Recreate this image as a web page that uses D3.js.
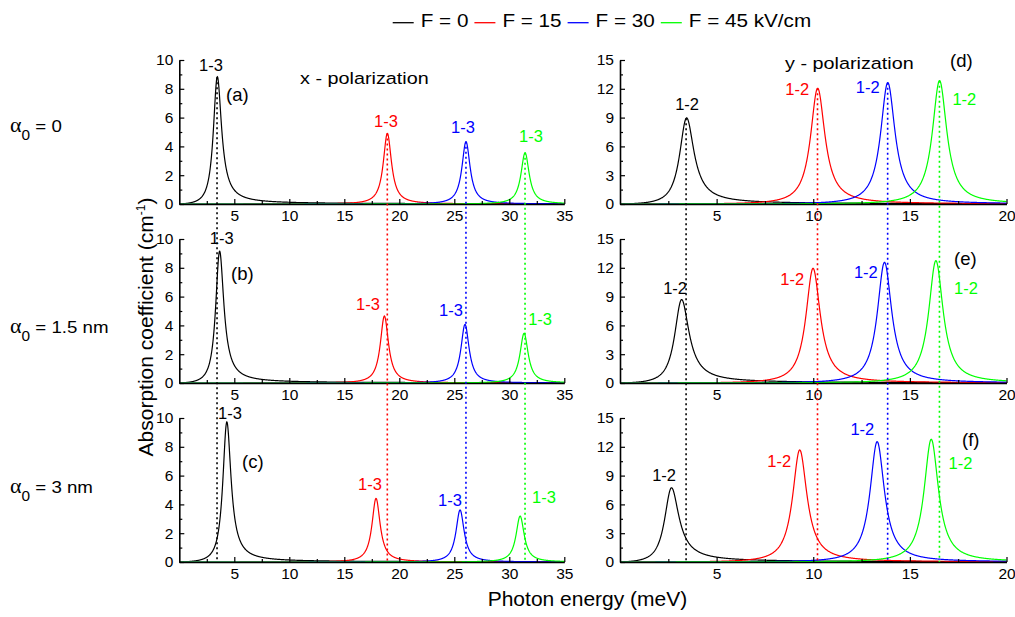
<!DOCTYPE html>
<html>
<head>
<meta charset="utf-8">
<script src="https://cdn.jsdelivr.net/npm/d3@7"></script>
<style>
  body { margin: 0; background: #fff; }
  svg { font-family: "Liberation Sans", Arial, sans-serif; }
</style>
</head>
<body>
<svg id="chart" width="1015" height="617"></svg>
<script>
// Field values (legend) and their colours
const fieldLabels = ["F = 0", "F = 15", "F = 30", "F = 45 kV/cm"];
const fieldColors = ["#000000", "#ff0000", "#0000ff", "#00ff00"];

// rows: alpha_0 values
const rowLabels = ["0", "1.5 nm", "3 nm"];
const xTags = ["(a)", "(b)", "(c)"];
const yTags = ["(d)", "(e)", "(f)"];

// x - polarization, transition 1-3: peak energy (meV) and peak height (cm^-1), per row, per field
const xPeakPos = [
  [3.43, 18.91, 26.06, 31.43],
  [3.64, 18.64, 25.97, 31.34],
  [4.30, 17.88, 25.52, 30.98]
];
const xPeakHeight = [
  [8.80, 4.90, 4.33, 3.56],
  [9.12, 4.65, 4.07, 3.45],
  [9.70, 4.42, 3.61, 3.19]
];
// y - polarization, transition 1-2
const yPeakPos = [
  [3.42, 10.22, 13.85, 16.53],
  [3.16, 9.98, 13.68, 16.34],
  [2.63, 9.29, 13.30, 16.10]
];
const yPeakHeight = [
  [8.93, 12.05, 12.64, 12.85],
  [8.65, 11.94, 12.57, 12.74],
  [7.68, 11.67, 12.53, 12.78]
];
const peakWidth = 0.45; // half width (meV)

// where the "1-3" / "1-2" labels sit, in data units [energy, value]
const xLabelAt = [
  [[2.88, 9.24], [18.79, 5.35], [25.79, 4.93], [31.97, 4.31]],
  [[3.85, 9.65], [17.15, 5.07], [24.70, 4.65], [32.80, 4.03]],
  [[4.61, 9.93], [17.34, 5.00], [24.60, 3.89], [33.15, 4.10]]
];
const yLabelAt = [
  [[3.47, 9.79], [9.17, 11.35], [12.82, 11.56], [17.82, 10.31]],
  [[2.85, 9.27], [8.91, 10.21], [12.72, 10.94], [17.90, 9.27]],
  [[2.28, 8.44], [8.24, 9.90], [12.54, 13.23], [17.62, 9.69]]
];

const xMajor = [5, 10, 15, 20, 25, 30, 35];
const xMinor = [2.5, 7.5, 12.5, 17.5, 22.5, 27.5, 32.5];
const yMajorX = [0, 2, 4, 6, 8, 10];
const yMinorX = [1, 3, 5, 7, 9];
const xMajorY = [5, 10, 15, 20];
const xMinorY = [2.5, 7.5, 12.5, 17.5];
const yMajorY = [0, 3, 6, 9, 12, 15];
const yMinorY = [1.5, 4.5, 7.5, 10.5, 13.5];

const svg = d3.select("#chart");

// panel rows in pixels
const rowTop = [60, 239, 418];
const rowH = 144;

// line shape: lorentzian weighted by photon energy
function absorption(e, e0, h) {
  const g2 = peakWidth * peakWidth;
  return h * (e / e0) * g2 / ((e - e0) * (e - e0) + g2);
}

const columns = [
  { xmax: 35, ymax: 10, range: [179.3, 564.3], pos: xPeakPos, height: xPeakHeight,
    labelAt: xLabelAt, trans: "1-3", tags: xTags, xt: xMajor, xm: xMinor, yt: yMajorX, ym: yMinorX,
    tagAt: [[226, 101], [231, 280], [242, 468]] },
  { xmax: 20, ymax: 15, range: [620, 1006.5], pos: yPeakPos, height: yPeakHeight,
    labelAt: yLabelAt, trans: "1-2", tags: yTags, xt: xMajorY, xm: xMinorY, yt: yMajorY, ym: yMinorY,
    tagAt: [[950, 67], [954, 265], [962, 446]] }
];

columns.forEach(col => {
  const x = d3.scaleLinear().domain([0, col.xmax]).range(col.range);
  const grid = d3.range(0.02, col.xmax + 0.001, 0.02);

  rowTop.forEach((top, r) => {
    const y = d3.scaleLinear().domain([0, col.ymax]).range([top + rowH, top]);
    const g = svg.append("g");

    // curves
    const line = d3.line().x(d => x(d[0])).y(d => y(d[1]));
    col.pos[r].forEach((e0, k) => {
      const pts = grid.map(e => [e, absorption(e, e0, col.height[r][k])]);
      g.append("path")
        .attr("d", line(pts))
        .attr("fill", "none")
        .attr("stroke", fieldColors[k])
        .attr("stroke-width", 1.2);
    });

    // axes
    const xAxis = g.append("g")
      .attr("transform", `translate(0,${top + rowH})`)
      .call(d3.axisBottom(x).tickValues(col.xt).tickSizeInner(-5).tickSizeOuter(0).tickPadding(6));
    g.append("g")
      .attr("transform", `translate(0,${top + rowH})`)
      .call(d3.axisBottom(x).tickValues(col.xm).tickSizeInner(-3).tickSizeOuter(0).tickFormat(""))
      .select(".domain").remove();
    const yAxis = g.append("g")
      .attr("transform", `translate(${col.range[0]},0)`)
      .call(d3.axisLeft(y).tickValues(col.yt).tickSizeInner(-5).tickSizeOuter(0).tickPadding(6));
    g.append("g")
      .attr("transform", `translate(${col.range[0]},0)`)
      .call(d3.axisLeft(y).tickValues(col.ym).tickSizeInner(-3).tickSizeOuter(0).tickFormat(""))
      .select(".domain").remove();

    g.selectAll(".domain").attr("stroke-width", 1.6);
    g.selectAll(".tick line").attr("stroke-width", 1.2);
    [xAxis, yAxis].forEach(a => a.selectAll("text")
      .attr("font-size", 15.5)
      .attr("font-family", "'Liberation Sans', Arial, sans-serif")
      .attr("fill", "#000"));

    // transition labels
    col.labelAt[r].forEach((p, k) => {
      g.append("text")
        .attr("x", x(p[0]))
        .attr("y", y(p[1]))
        .attr("text-anchor", "middle")
        .attr("font-size", 16.5)
        .attr("fill", fieldColors[k])
        .text(col.trans);
    });

    // panel tag
    g.append("text")
      .attr("x", col.tagAt[r][0])
      .attr("y", col.tagAt[r][1])
      .attr("font-size", 18.5)
      .text(col.tags[r]);
  });

  // dotted lines at the peaks of the top row, down to the bottom row
  const yTop = d3.scaleLinear().domain([0, col.ymax]).range([rowTop[0] + rowH, rowTop[0]]);
  col.pos[0].forEach((e0, k) => {
    svg.append("line")
      .attr("x1", x(e0)).attr("x2", x(e0))
      .attr("y1", yTop(col.height[0][k]))
      .attr("y2", rowTop[2] + rowH)
      .attr("stroke", fieldColors[k])
      .attr("stroke-width", 1.6)
      .attr("stroke-dasharray", "2,3");
  });
});

// polarization labels
svg.append("text")
  .attr("transform", "translate(300,84) scale(1.2,1)")
  .attr("font-size", 16.5)
  .text("x - polarization");
svg.append("text")
  .attr("transform", "translate(785,69) scale(1.2,1)")
  .attr("font-size", 16.5)
  .text("y - polarization");

// row labels
const rowBase = [131.5, 333, 492.5];
rowLabels.forEach((lab, r) => {
  const t = svg.append("text")
    .attr("transform", `translate(10,${rowBase[r]}) scale(1.1,1)`)
    .attr("font-size", 17);
  t.append("tspan").attr("font-family", "'Liberation Serif', serif").attr("font-size", 20).text("α");
  t.append("tspan").attr("font-size", 14).attr("dy", 8).text("0");
  t.append("tspan").attr("dy", -8).text(" = " + lab);
});

// axis titles
svg.append("text")
  .attr("x", 587.5).attr("y", 606)
  .attr("text-anchor", "middle")
  .attr("font-size", 21)
  .text("Photon energy (meV)");

const yt = svg.append("text")
  .attr("transform", "translate(153,327) rotate(-90)")
  .attr("text-anchor", "middle")
  .attr("font-size", 21);
yt.append("tspan").text("Absorption coefficient (cm");
yt.append("tspan").attr("font-size", 12).attr("dy", -8).text("-1");
yt.append("tspan").attr("dy", 8).text(")");

// legend
let lx = 392.7;
fieldLabels.forEach((lab, k) => {
  svg.append("line")
    .attr("x1", lx).attr("x2", lx + 21)
    .attr("y1", 22.7).attr("y2", 22.7)
    .attr("stroke", fieldColors[k])
    .attr("stroke-width", 1.3);
  lx += 28;
  const t = svg.append("text")
    .attr("transform", `translate(${lx},27) scale(1.15,1)`)
    .attr("font-size", 18)
    .text(lab);
  lx += t.node().getComputedTextLength() * 1.15 + 6;
});
</script>
</body>
</html>
